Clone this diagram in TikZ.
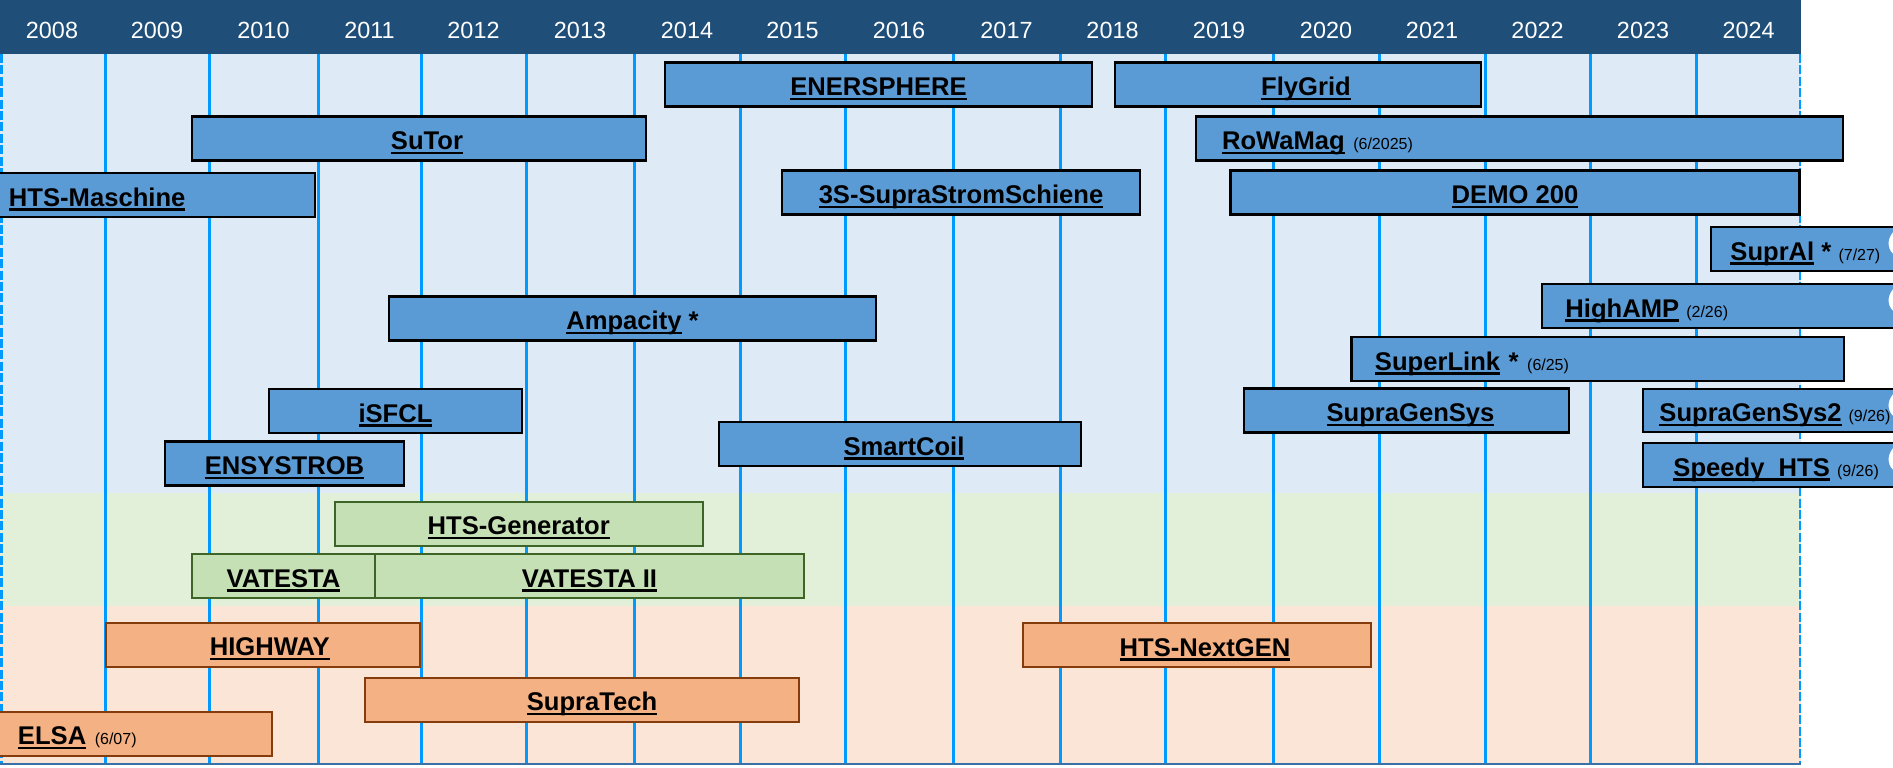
\documentclass[tikz,border=0pt]{standalone}
\usepackage{fontspec}
\setmainfont{Liberation Sans}
\newsavebox{\ulbox}
\newcommand{\uline}[1]{\sbox{\ulbox}{#1}\rlap{\rule[-2.3pt]{\wd\ulbox}{1.15pt}}\usebox{\ulbox}}
\newcommand{\projend}[1]{{\mdseries\fontsize{8}{9}\selectfont(#1)}}

\definecolor{headblue}{RGB}{31,78,121}
\definecolor{bandblue}{RGB}{222,235,247}
\definecolor{bandgreen}{RGB}{226,240,217}
\definecolor{bandorange}{RGB}{251,229,214}
\definecolor{gridblue}{RGB}{0,153,255}
\definecolor{baseblue}{RGB}{58,112,168}
\definecolor{boxblue}{RGB}{91,155,213}
\definecolor{boxgreen}{RGB}{197,224,180}
\definecolor{greenline}{RGB}{62,100,40}
\definecolor{boxorange}{RGB}{244,177,131}
\definecolor{orangeline}{RGB}{132,60,12}

\begin{document}
\begin{tikzpicture}[x=0.5pt, y=-0.5pt,
  yearlabel/.style={text=white, font=\fontsize{11.7}{14}\selectfont},
  yearline/.style={draw=gridblue, line width=1.5pt},
  edgeline/.style={draw=gridblue, line width=1.4pt, dash pattern=on 4.5pt off 1.2pt},
  bluebox/.style={draw=black, line width=1.1pt, fill=boxblue, minimum height=22pt, inner sep=0pt, text height=11pt, text depth=0pt, align=center, font=\bfseries\fontsize{12.8}{15}\selectfont},
  greenbox/.style={bluebox, draw=greenline, line width=1pt, fill=boxgreen},
  orangebox/.style={bluebox, draw=orangeline, line width=1pt, fill=boxorange},
  wavelabel/.style={anchor=west, inner sep=0pt, text height=11pt, text depth=0pt, font=\bfseries\fontsize{12.8}{15}\selectfont}]
\useasboundingbox (0,0) rectangle (1893,767);

% background bands and header
\fill[bandblue] (0,54) rectangle (1801,493);
\fill[bandgreen] (0,493) rectangle (1801,606);
\fill[bandorange] (0,606) rectangle (1801,763);
\fill[headblue] (0,0) rectangle (1801,54);

% year borders
\draw[yearline] (105,54) -- (105,763);
\draw[yearline] (209,54) -- (209,763);
\draw[yearline] (318,54) -- (318,763);
\draw[yearline] (421,54) -- (421,763);
\draw[yearline] (526,54) -- (526,763);
\draw[yearline] (634,54) -- (634,763);
\draw[yearline] (740,54) -- (740,763);
\draw[yearline] (845,54) -- (845,763);
\draw[yearline] (953,54) -- (953,763);
\draw[yearline] (1060,54) -- (1060,763);
\draw[yearline] (1165,54) -- (1165,763);
\draw[yearline] (1273,54) -- (1273,763);
\draw[yearline] (1379,54) -- (1379,763);
\draw[yearline] (1485,54) -- (1485,763);
\draw[yearline] (1590,54) -- (1590,763);
\draw[yearline] (1696,54) -- (1696,763);
\draw[edgeline] (1.5,54) -- (1.5,763);
\draw[edgeline] (1800,54) -- (1800,763);
\draw[baseblue, line width=1pt] (0,764) -- (1801,764);

\node[yearlabel] (y2008) at (52,30) {2008};
\node[yearlabel] (y2009) at (157,30) {2009};
\node[yearlabel] (y2010) at (263.5,30) {2010};
\node[yearlabel] (y2011) at (369.5,30) {2011};
\node[yearlabel] (y2012) at (473.5,30) {2012};
\node[yearlabel] (y2013) at (580,30) {2013};
\node[yearlabel] (y2014) at (687,30) {2014};
\node[yearlabel] (y2015) at (792.5,30) {2015};
\node[yearlabel] (y2016) at (899,30) {2016};
\node[yearlabel] (y2017) at (1006.5,30) {2017};
\node[yearlabel] (y2018) at (1112.5,30) {2018};
\node[yearlabel] (y2019) at (1219,30) {2019};
\node[yearlabel] (y2020) at (1326,30) {2020};
\node[yearlabel] (y2021) at (1432,30) {2021};
\node[yearlabel] (y2022) at (1537.5,30) {2022};
\node[yearlabel] (y2023) at (1643,30) {2023};
\node[yearlabel] (y2024) at (1748.5,30) {2024};

% blue projects
\node[bluebox, minimum width=213.5pt] (ener) at (878.5,84.5) {\uline{ENERSPHERE}};
\node[bluebox, minimum width=183pt] (flygrid) at (1298,84.5) {\hspace*{8pt}\uline{FlyGrid}};
\node[bluebox, minimum width=227pt] (sutor) at (419,138.5) {\hspace*{8pt}\uline{SuTor}};
\node[bluebox, minimum width=323.5pt, text width=297.5pt, inner xsep=13pt, align=left] (rowamag) at (1519.5,138.5) {\uline{RoWaMag} \projend{6/2025}};
\node[bluebox, minimum width=158.5pt, text width=147.5pt, inner xsep=5.5pt, align=left] (htsmasch) at (156.5,195) {\uline{HTS-Maschine}};
\node[bluebox, minimum width=179pt] (supra3s) at (961,192.5) {\uline{3S-SupraStromSchiene}};
\node[bluebox, minimum width=284.5pt] (demo) at (1515,192.5) {\uline{DEMO 200}};
\node[bluebox, minimum width=243.5pt] (ampacity) at (632.5,318.5) {\uline{Ampacity} *};
\node[bluebox, minimum width=246.25pt, text width=222.75pt, inner xsep=11.75pt, align=left] (superlink) at (1597.7,359) {\uline{SuperLink} * \projend{6/25}};
\node[bluebox, minimum width=126.5pt] (isfcl) at (395.5,411) {\uline{iSFCL}};
\node[bluebox, minimum width=162.5pt] (supragensys) at (1406.5,410.5) {\hspace*{4pt}\uline{SupraGenSys}};
\node[bluebox, minimum width=119.5pt] (ensystrob) at (284.5,463.5) {\uline{ENSYSTROB}};
\node[bluebox, minimum width=181pt] (smartcoil) at (900,444) {\hspace*{4pt}\uline{SmartCoil}};

% running past the chart
\fill[boxblue] (1711,227) -- (1893,227) -- (1893,232) .. controls (1887,239) and (1887,248) .. (1893,254) -- (1893,271) -- (1711,271) -- cycle;
\draw[line width=1.1pt] (1893,227) -- (1711,227) -- (1711,271) -- (1893,271);
\node[wavelabel] (supral) at (1730,249) {\uline{SuprAl} * \projend{7/27}};

\fill[boxblue] (1542,284) -- (1893,284) -- (1893,289) .. controls (1887,296) and (1887,305) .. (1893,311) -- (1893,328) -- (1542,328) -- cycle;
\draw[line width=1.1pt] (1893,284) -- (1542,284) -- (1542,328) -- (1893,328);
\node[wavelabel] (highamp) at (1565,306) {\uline{HighAMP} \projend{2/26}};

\fill[boxblue] (1643,389) -- (1893,389) -- (1893,394) .. controls (1887,401) and (1887,410) .. (1893,416) -- (1893,432) -- (1643,432) -- cycle;
\draw[line width=1.1pt] (1893,389) -- (1643,389) -- (1643,432) -- (1893,432);
\node[wavelabel] (supragensystwo) at (1659,410.5) {\uline{SupraGenSys2} \projend{9/26}};

\fill[boxblue] (1643,443) -- (1893,443) -- (1893,448) .. controls (1887,455) and (1887,464) .. (1893,470) -- (1893,487) -- (1643,487) -- cycle;
\draw[line width=1.1pt] (1893,443) -- (1643,443) -- (1643,487) -- (1893,487);
\node[wavelabel] (speedy) at (1673,465) {\uline{Speedy\_HTS} \projend{9/26}};

% green projects
\node[greenbox, minimum width=184.25pt] (htsgen) at (518.75,523.5) {\uline{HTS-Generator}};
\node[greenbox, minimum width=91.5pt] (vatesta) at (283.5,576) {\uline{VATESTA}};
\node[greenbox, minimum width=214.5pt] (vatestatwo) at (589.5,576) {\uline{VATESTA II}};

% orange projects
\node[orangebox, minimum width=157.25pt] (highway) at (262.75,644.5) {\hspace*{7pt}\uline{HIGHWAY}};
\node[orangebox, minimum width=174pt] (htsnext) at (1197,645) {\hspace*{8pt}\uline{HTS-NextGEN}};
\node[orangebox, minimum width=217pt] (supratech) at (582,699.5) {\hspace*{10pt}\uline{SupraTech}};
\node[orangebox, minimum width=137pt, text width=117pt, inner xsep=10pt, align=left] (elsa) at (135,733.5) {\uline{ELSA} \projend{6/07}};

\end{tikzpicture}
\end{document}
